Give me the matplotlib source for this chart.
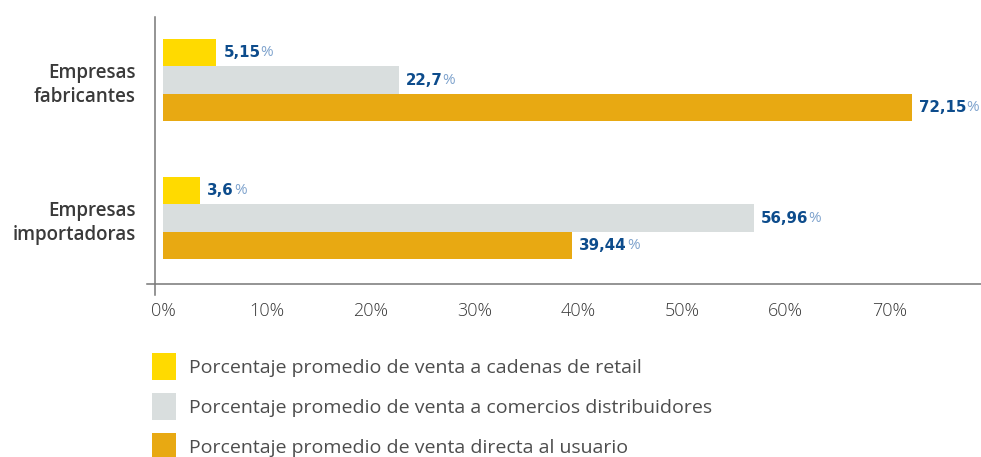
import matplotlib.pyplot as plt

# datos
categorias = ['Empresas\nfabricantes', 'Empresas\nimportadoras']
retail = [5.15, 3.6]
distribuidores = [22.7, 56.96]
directa = [72.15, 39.44]
series = ['Porcentaje promedio de venta a cadenas de retail',
          'Porcentaje promedio de venta a comercios distribuidores',
          'Porcentaje promedio de venta directa al usuario']
colores = ['#FFDA00', '#D9DEDE', '#E8A912']
ticks = [0, 10, 20, 30, 40, 50, 60, 70]

plt.rcParams['font.family'] = ['Open Sans', 'DejaVu Sans']

fig = plt.figure(figsize=(9.81, 4.57), dpi=100)
ax = fig.add_axes([0.1498, 0.3786, 0.8502, 0.5842])

alto = 0.2
pos = [0, 1]
barras = []
for k, (vals, col) in enumerate(zip([retail, distribuidores, directa], colores)):
    ys = [p + (k - 1) * alto for p in pos]
    b = ax.barh(ys, vals, height=alto, color=col, label=series[k])
    barras.append(b)
    for y, v in zip(ys, vals):
        txt = ax.annotate(f'{v:g}'.replace('.', ','), xy=(v, y), xytext=(5, 0),
                          textcoords='offset points', va='center', ha='left',
                          fontsize=10.8, fontweight='bold', color='#0D4C8C',
                          family='DejaVu Sans')
        ax.annotate('%', xy=(1, 0), xycoords=txt, va='bottom', ha='left',
                    fontsize=11, color='#7FA3CD')

ax.set_xlim(-1.54, 78.8)
ax.set_ylim(1.478, -0.457)
for s in ax.spines.values():
    s.set_visible(False)
ax.axvline(-0.77, ymin=-0.04, ymax=1, color='#777777', lw=1.1, clip_on=False)
ax.axhline(1.478, color='#777777', lw=1.1, clip_on=False)

ax.set_xticks(ticks)
ax.set_xticklabels([f'{t}%' for t in ticks])
ax.tick_params(axis='x', length=0, pad=13, labelsize=13, labelcolor='#3a3a3a')
for lab in ax.get_xticklabels():
    lab.set_fontweight('light')
ax.set_yticks(pos)
ax.set_yticklabels(categorias, fontsize=13.5, fontweight='semibold', color='#3a3a3a',
                   linespacing=1.3)
ax.tick_params(axis='y', length=0, pad=8)

fig.legend(handles=barras, labels=series, loc='upper left',
           bbox_to_anchor=(0.145, 0.249), frameon=False, borderpad=0,
           fontsize=14, handlelength=1.23, handleheight=1.75,
           labelspacing=0.68, handletextpad=0.65, labelcolor='#4d4d4d')

plt.savefig('out.png')
